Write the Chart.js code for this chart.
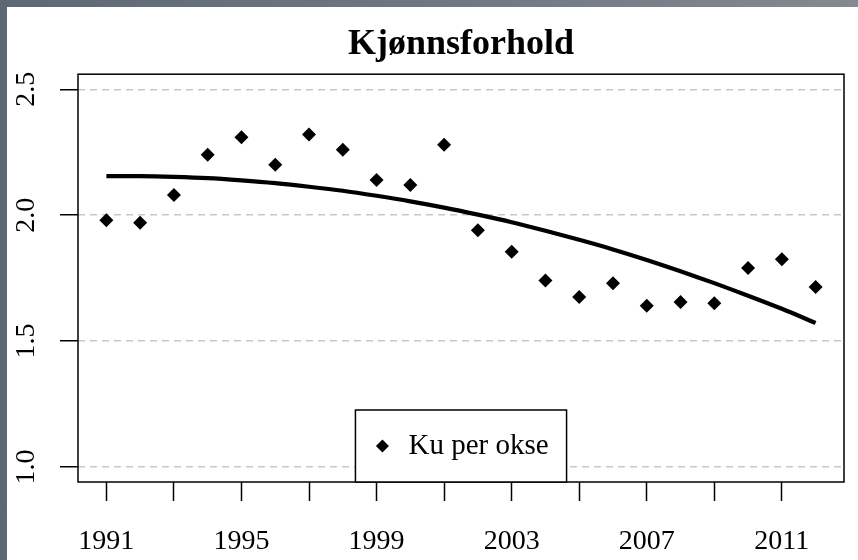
<!DOCTYPE html>
<html>
<head>
<meta charset="utf-8">
<title>Kjønnsforhold</title>
<script src="https://cdn.jsdelivr.net/npm/chart.js@4.4.1/dist/chart.umd.min.js"></script>
<style>
    html, body {
        margin: 0;
        padding: 0;
        width: 858px;
        height: 560px;
        overflow: hidden;
        background: linear-gradient(90deg, #5e6874 0%, #727a84 60%, #858a90 100%);
    }
    #wrap {
        position: absolute;
        left: 7px;
        top: 7px;
        width: 851px;
        height: 553px;
        background: #ffffff;
    }
</style>
</head>
<body>
<div id="wrap"><canvas id="sexRatioChart"></canvas></div>
<script>
"use strict";

const years = [1991, 1992, 1993, 1994, 1995, 1996, 1997, 1998, 1999, 2000, 2001,
    2002, 2003, 2004, 2005, 2006, 2007, 2008, 2009, 2010, 2011, 2012];
const kuPerOkse = [1.98, 1.97, 2.08, 2.24, 2.31, 2.20, 2.32, 2.26, 2.14, 2.12, 2.28,
    1.94, 1.855, 1.74, 1.675, 1.73, 1.64, 1.655, 1.65, 1.79, 1.825, 1.715];
const trend = [2.155, 2.155, 2.152, 2.147, 2.138, 2.127, 2.113, 2.097, 2.077, 2.055, 2.030,
    2.002, 1.972, 1.938, 1.902, 1.864, 1.822, 1.777, 1.730, 1.680, 1.628, 1.572];
const xTickValues = [1991, 1993, 1995, 1997, 1999, 2001, 2003, 2005, 2007, 2009, 2011];
const xTickLabels = ['1991', '', '1995', '', '1999', '', '2003', '', '2007', '', '2011'];
const yTickValues = [1.0, 1.5, 2.0, 2.5];
const yTickLabels = ['1.0', '1.5', '2.0', '2.5'];

const SERIF = '"Liberation Serif", "DejaVu Serif", serif';

// plot frame plus an R style legend sitting on the bottom edge
const boxAndLegend = {
    id: 'boxAndLegend',
    afterDraw(chart) {
        const ctx = chart.ctx;
        const area = chart.chartArea;
        ctx.save();
        ctx.strokeStyle = '#000';
        ctx.lineWidth = 1.5;
        ctx.strokeRect(area.left, area.top, area.right - area.left, area.bottom - area.top);

        const label = chart.data.datasets[0].label;
        ctx.font = '29px ' + SERIF;
        const textW = ctx.measureText(label).width;
        const w = 54 + textW + 17;
        const h = 72;
        const x0 = (area.left + area.right) / 2 - w / 2;
        const y0 = area.bottom - h;
        ctx.fillStyle = '#fff';
        ctx.fillRect(x0, y0, w, h);
        ctx.strokeRect(x0, y0, w, h);
        Chart.helpers.drawPoint(ctx, {pointStyle: 'rectRot', radius: 6.5, borderWidth: 0}, x0 + 27, y0 + h / 2);
        ctx.fillStyle = '#000';
        ctx.fill();
        ctx.textBaseline = 'middle';
        ctx.textAlign = 'left';
        ctx.fillText(label, x0 + 53, y0 + h / 2);
        ctx.restore();
    }
};

const ctx = document.getElementById('sexRatioChart').getContext('2d');
new Chart(ctx, {
    type: 'scatter',
    data: {
        datasets: [{
                label: 'Ku per okse',
                data: years.map((y, i) => ({x: y, y: kuPerOkse[i]})),
                pointStyle: 'rectRot',
                pointRadius: 7,
                pointBackgroundColor: '#000',
                pointBorderWidth: 0
            }, {
                label: 'Trend',
                data: years.map((y, i) => ({x: y, y: trend[i]})),
                showLine: true,
                borderColor: '#000',
                borderWidth: 4.2,
                pointRadius: 0,
                tension: 0.3
            }]
    },
    options: {
        responsive: true,
        maintainAspectRatio: false,
        animation: false,
        devicePixelRatio: 1,
        layout: {
            padding: {left: 0, right: 14, top: 0, bottom: 0}
        },
        plugins: {
            legend: {display: false},
            tooltip: {enabled: false},
            title: {
                display: true,
                fullSize: false,
                text: 'Kjønnsforhold',
                color: '#000',
                font: {family: SERIF, size: 36, weight: 'bold', lineHeight: 1.2},
                padding: {top: 16, bottom: 8}
            }
        },
        scales: {
            x: {
                type: 'linear',
                min: 1990.16,
                max: 2012.84,
                afterBuildTicks: scale => {
                    scale.ticks = xTickValues.map(v => ({value: v}));
                },
                afterFit: scale => {
                    scale.height = 78;
                },
                border: {display: false},
                grid: {
                    drawOnChartArea: false,
                    drawTicks: true,
                    tickLength: 19,
                    tickColor: '#000',
                    tickWidth: 1.5
                },
                ticks: {
                    autoSkip: false,
                    maxRotation: 0,
                    padding: 24,
                    color: '#000',
                    font: {family: SERIF, size: 28},
                    callback: (value, index) => xTickLabels[index]
                }
            },
            y: {
                min: 0.94,
                max: 2.56,
                afterBuildTicks: scale => {
                    scale.ticks = yTickValues.map(v => ({value: v}));
                },
                afterFit: scale => {
                    scale.width = 71;
                },
                border: {display: false, dash: [7, 5]},
                grid: {
                    color: '#c8c8c8',
                    lineWidth: 1.5,
                    drawTicks: true,
                    tickLength: 18,
                    tickColor: '#000',
                    tickWidth: 1.5,
                    tickBorderDash: []
                },
                ticks: {
                    minRotation: 90,
                    maxRotation: 90,
                    crossAlign: 'center',
                    padding: 16,
                    color: '#000',
                    font: {family: SERIF, size: 28},
                    callback: (value, index) => yTickLabels[index]
                }
            }
        }
    },
    plugins: [boxAndLegend]
});
</script>
</body>
</html>
